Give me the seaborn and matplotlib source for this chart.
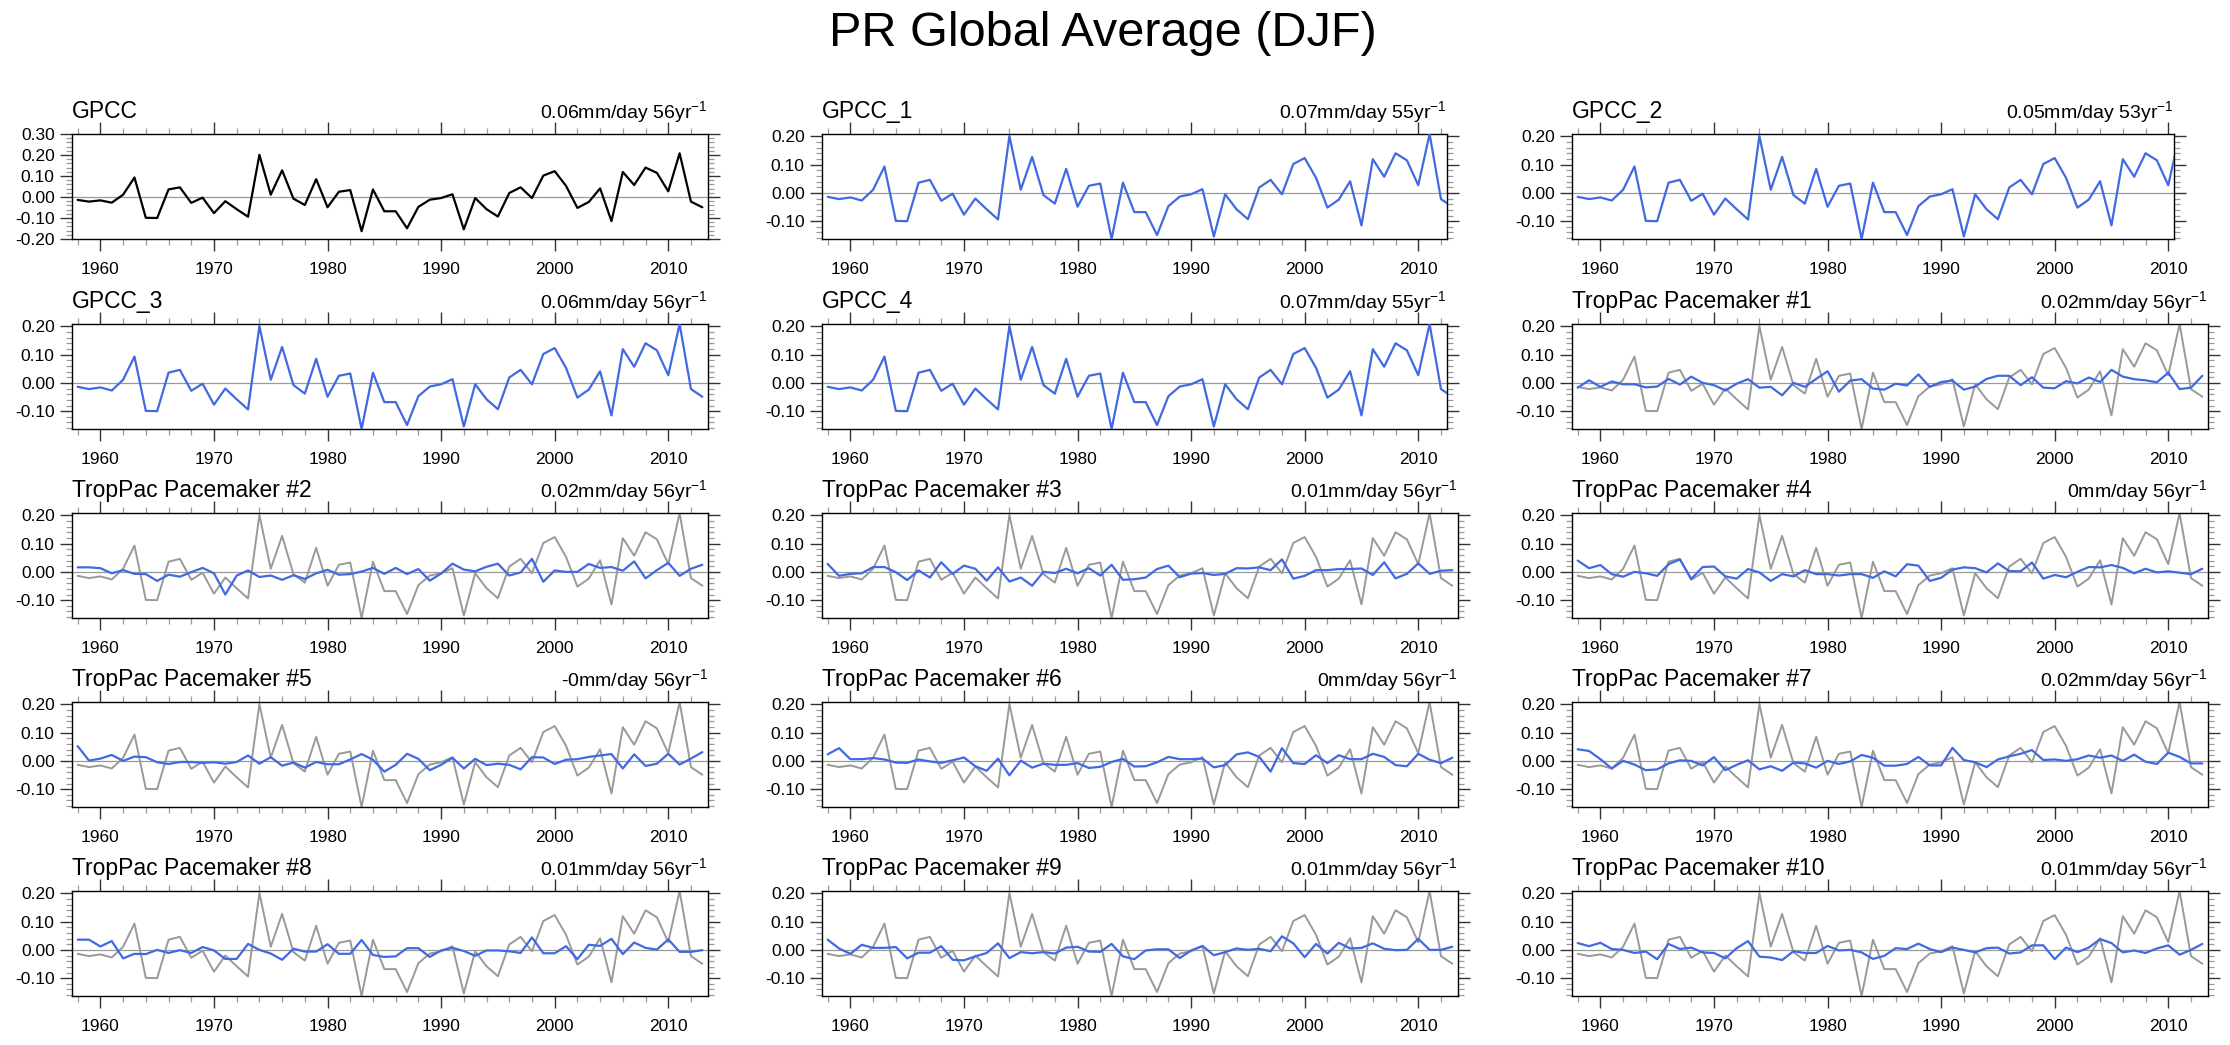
import numpy as np
import pandas as pd
import matplotlib
matplotlib.use("Agg")
import matplotlib.pyplot as plt
from matplotlib.ticker import MultipleLocator, FuncFormatter
import seaborn as sns

# DJF precipitation anomalies (mm/day), 1958-2013
years = np.arange(1958, 2014)
gpcc = [-0.014, -0.022, -0.016, -0.027, 0.011, 0.093, -0.099, -0.100, 0.036, 0.046,
        -0.028, -0.003, -0.077, -0.020, -0.058, -0.094, 0.201, 0.011, 0.127, -0.008,
        -0.038, 0.085, -0.049, 0.025, 0.033, -0.163, 0.036, -0.068, -0.068, -0.149,
        -0.047, -0.013, -0.005, 0.013, -0.154, -0.005, -0.058, -0.093, 0.019, 0.046,
        -0.005, 0.102, 0.123, 0.053, -0.052, -0.024, 0.041, -0.115, 0.119, 0.057,
        0.140, 0.115, 0.027, 0.208, -0.022, -0.049]

pm1 = [-0.017, 0.009, -0.014, 0.005, -0.005, -0.005, -0.016, -0.013, 0.014, -0.006,
       0.022, 0.000, -0.008, -0.027, -0.003, 0.013, -0.017, -0.014, -0.044, 0.000,
       -0.014, 0.014, 0.041, -0.031, 0.008, 0.013, -0.020, -0.024, -0.003, -0.009,
       0.030, -0.014, 0.003, 0.008, -0.024, -0.013, 0.014, 0.025, 0.025, -0.008,
       0.020, -0.017, -0.019, 0.006, -0.002, 0.019, 0.003, 0.046, 0.022, 0.013,
       0.009, 0.002, 0.036, -0.022, -0.017, 0.025]
pm2 = [0.016, 0.016, 0.013, -0.005, 0.006, -0.007, -0.008, -0.032, -0.010, -0.017,
       -0.001, 0.014, -0.005, -0.080, -0.013, 0.005, -0.018, -0.013, -0.028, -0.012,
       -0.025, -0.005, 0.007, -0.010, -0.008, 0.001, 0.014, -0.007, 0.014, -0.008,
       0.010, -0.031, -0.006, 0.029, 0.008, 0.002, 0.018, 0.029, -0.013, -0.002,
       0.046, -0.035, 0.005, 0.000, 0.000, 0.028, 0.014, 0.017, 0.004, 0.037,
       -0.023, 0.006, 0.032, -0.014, 0.011, 0.025]
pm3 = [0.028, -0.014, -0.007, -0.005, 0.017, 0.017, -0.001, -0.029, 0.005, -0.020,
       0.034, -0.007, 0.022, 0.011, -0.031, 0.016, -0.034, -0.020, -0.049, 0.000,
       -0.004, 0.011, -0.005, 0.013, -0.013, 0.025, -0.028, -0.026, -0.020, 0.010,
       0.022, -0.019, -0.006, -0.004, -0.011, -0.007, 0.013, 0.012, 0.016, 0.006,
       0.044, -0.024, -0.014, 0.006, 0.006, 0.010, 0.010, 0.012, -0.011, 0.034,
       -0.023, -0.007, 0.030, -0.007, 0.004, 0.006]
pm4 = [0.040, 0.013, 0.024, -0.008, -0.017, 0.000, -0.005, -0.014, 0.027, 0.044,
       -0.025, 0.017, 0.019, -0.016, -0.024, 0.010, -0.002, -0.032, -0.008, -0.016,
       0.006, -0.008, -0.008, -0.013, -0.008, -0.008, -0.021, 0.002, -0.016, 0.027,
       0.022, -0.032, -0.021, 0.008, 0.016, 0.013, -0.002, 0.030, 0.003, 0.002,
       0.033, -0.024, -0.011, -0.019, 0.000, 0.017, 0.016, 0.024, 0.014, -0.005,
       0.011, -0.002, 0.002, -0.003, -0.008, 0.011]
pm5 = [0.052, 0.001, 0.008, 0.021, 0.000, 0.015, 0.013, -0.005, -0.011, -0.004,
       -0.004, -0.007, -0.005, -0.010, -0.004, 0.019, -0.010, 0.013, -0.017, -0.006,
       -0.024, -0.004, -0.012, -0.012, 0.005, 0.024, 0.004, -0.038, -0.014, 0.025,
       0.007, -0.033, -0.014, 0.011, -0.027, 0.007, -0.015, -0.010, -0.014, -0.030,
       0.013, 0.012, -0.011, 0.004, 0.006, 0.014, 0.019, 0.024, -0.027, 0.023,
       -0.018, -0.010, 0.025, -0.013, 0.008, 0.031]
pm6 = [0.023, 0.045, 0.006, 0.006, 0.010, 0.005, -0.006, -0.007, 0.005, -0.002,
       -0.007, 0.002, 0.012, -0.019, -0.035, 0.008, -0.051, 0.001, -0.024, -0.010,
       -0.014, -0.014, -0.008, -0.025, -0.021, -0.004, 0.007, -0.020, -0.019, -0.005,
       0.014, 0.006, 0.006, 0.008, -0.023, -0.015, 0.023, 0.030, 0.014, -0.038,
       0.045, -0.008, -0.011, 0.020, -0.008, 0.020, 0.006, 0.006, 0.025, 0.014,
       -0.015, -0.019, 0.025, 0.004, -0.008, 0.011]
pm7 = [0.041, 0.035, 0.006, -0.027, 0.000, -0.013, -0.033, -0.030, -0.009, 0.002,
       0.000, -0.016, 0.013, -0.033, -0.014, 0.002, -0.030, -0.019, -0.035, -0.006,
       -0.009, -0.024, 0.000, -0.011, -0.002, 0.021, 0.011, -0.017, -0.017, -0.011,
       0.014, -0.016, -0.016, 0.046, 0.003, -0.005, -0.022, 0.005, 0.016, 0.025,
       0.038, 0.003, 0.005, 0.000, 0.006, 0.019, 0.011, 0.019, 0.000, 0.022,
       -0.003, -0.011, 0.029, 0.014, -0.009, -0.009]
pm8 = [0.036, 0.036, 0.012, 0.031, -0.030, -0.014, -0.015, 0.000, -0.011, -0.001,
       -0.011, 0.010, -0.002, -0.032, -0.032, 0.021, 0.000, -0.013, -0.035, 0.004,
       -0.006, -0.006, 0.020, -0.014, -0.014, 0.035, -0.018, -0.025, -0.023, 0.006,
       0.006, -0.025, -0.002, 0.007, -0.004, -0.021, -0.002, -0.002, -0.005, -0.011,
       0.044, -0.012, -0.012, 0.013, -0.033, 0.018, 0.014, 0.039, -0.015, 0.026,
       0.007, 0.001, 0.037, -0.007, -0.007, -0.001]
pm9 = [0.036, 0.005, -0.014, 0.018, 0.007, 0.007, 0.010, -0.030, -0.010, -0.010,
       0.013, -0.035, -0.037, -0.023, -0.011, 0.023, -0.029, -0.008, -0.012, -0.008,
       -0.013, 0.008, 0.011, -0.006, -0.007, 0.021, -0.023, -0.033, -0.002, 0.002,
       0.002, -0.029, -0.002, 0.014, -0.019, -0.008, 0.005, 0.000, 0.004, -0.005,
       0.048, 0.023, -0.026, 0.021, -0.013, 0.025, 0.005, 0.007, 0.023, 0.004,
       -0.001, 0.000, 0.039, 0.000, 0.000, 0.011]
pm10 = [0.024, 0.013, 0.025, 0.003, 0.000, -0.011, -0.006, -0.033, 0.021, 0.003,
        0.008, -0.009, -0.011, -0.030, 0.006, 0.031, -0.024, -0.027, -0.036, -0.005,
        -0.011, -0.011, 0.014, -0.002, 0.000, -0.009, -0.032, -0.021, 0.006, 0.003,
        0.022, 0.003, -0.008, 0.008, 0.000, -0.009, 0.006, 0.008, -0.013, -0.009,
        0.016, 0.016, -0.033, 0.008, -0.008, 0.008, 0.038, 0.024, -0.009, -0.002,
        -0.011, 0.005, 0.016, -0.017, 0.000, 0.021]
pacemakers = [pm1, pm2, pm3, pm4, pm5, pm6, pm7, pm8, pm9, pm10]

titles = ["GPCC", "GPCC_1", "GPCC_2", "GPCC_3", "GPCC_4"] + \
         [f"TropPac Pacemaker #{i}" for i in range(1, 11)]
trends = ["0.06", "0.07", "0.05", "0.06", "0.07",
          "0.02", "0.02", "0.01", "0", "-0", "0", "0.02", "0.01", "0.01", "0.01"]
nyrs = [56, 55, 53, 56, 55] + [56] * 10

sns.set_style("ticks")
plt.rcParams['font.family'] = ['Liberation Sans', 'DejaVu Sans']
plt.rcParams['mathtext.fontset'] = 'custom'
plt.rcParams['mathtext.rm'] = 'Liberation Sans'
plt.rcParams['text.color'] = 'black'
plt.rcParams['xtick.labelcolor'] = 'black'
plt.rcParams['ytick.labelcolor'] = 'black'

W, H = 2230, 1045
fig = plt.figure(figsize=(W / 100, H / 100), dpi=100)
fig.patch.set_facecolor('white')

col_left = [72, 822, 1572]
row_top = [134, 324, 513, 702, 891]
ax_h = 105
px_per_yr = 636 / 56

blue = '#4169E1'
gray = '#999999'
ymin, ymax = min(gpcc), max(gpcc)

fmt = FuncFormatter(lambda v, p: f"{v + 0.0:.2f}".replace("-0.00", "0.00"))

for i, title in enumerate(titles):
    r, c = divmod(i, 3)
    w = px_per_yr * nyrs[i]
    ax = fig.add_axes([col_left[c] / W, 1 - (row_top[r] + ax_h) / H, w / W, ax_h / H])
    ax.axhline(0, color='#9a9a9a', lw=0.9, zorder=1)

    if i == 0:
        sns.lineplot(x=years, y=gpcc, ax=ax, color='black', lw=1.6, zorder=3)
    elif i < 5:
        sns.lineplot(x=years, y=gpcc, ax=ax, color=blue, lw=1.6, zorder=3)
    else:
        sns.lineplot(x=years, y=gpcc, ax=ax, color=gray, lw=1.4, zorder=2)
        sns.lineplot(x=years, y=pacemakers[i - 5], ax=ax, color=blue, lw=1.6, zorder=3)

    ax.set_xlim(1957.5, 1957.5 + nyrs[i])
    if i == 0:
        ax.set_ylim(-0.2, 0.3)
    else:
        ax.set_ylim(ymin, ymax)

    ax.xaxis.set_major_locator(MultipleLocator(10))
    ax.xaxis.set_minor_locator(MultipleLocator(2))
    ax.yaxis.set_major_locator(MultipleLocator(0.1))
    ax.yaxis.set_minor_locator(MultipleLocator(0.02))
    ax.yaxis.set_major_formatter(fmt)

    ax.tick_params(which='both', direction='out', top=True, right=True,
                   labeltop=False, labelright=False)
    ax.tick_params(which='major', length=8.5, width=1.0, color='#333333',
                   labelsize=12.5, labelcolor='black')
    ax.tick_params(which='minor', length=4.5, width=0.9, color='#9a9a9a')
    ax.tick_params(axis='x', which='major', pad=8)
    ax.tick_params(axis='y', which='major', pad=4)
    for s in ax.spines.values():
        s.set_linewidth(1.0)
        s.set_color('black')
    ax.set_xlabel('')
    ax.set_ylabel('')

    ax.text(0, 1 + 16 / ax_h, title, transform=ax.transAxes, ha='left',
            va='baseline', fontsize=16.5, color='black')
    ax.text(1, 1 + 15 / ax_h, f"{trends[i]}mm/day {nyrs[i]}yr$^{{-1}}$",
            transform=ax.transAxes, ha='right', va='baseline', fontsize=14,
            color='black')

fig.text(1103 / W, 1 - 46 / H, "PR Global Average (DJF)", ha='center', va='baseline',
         fontsize=35, color='black')

plt.savefig('out.png', dpi=100)
